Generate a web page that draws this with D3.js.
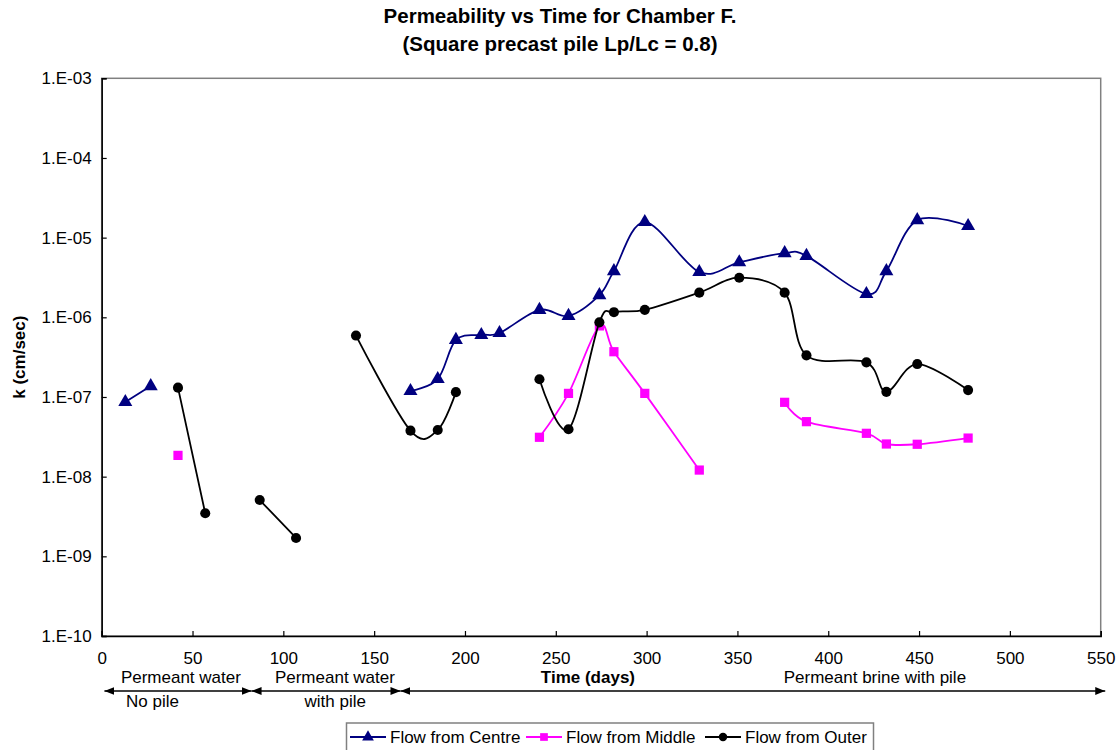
<!DOCTYPE html>
<head>
  <meta charset="utf-8">
  <script src="https://d3js.org/d3.v7.min.js"></script>
  <style>
    body { margin:0; background:#fff; }
    text { font-family: "Liberation Sans", Arial, sans-serif; }
  </style>
</head>

<body>
  <div id="chart"></div>
  <script>
    // data, null = break in the line
    var centreDays = [13, 27, null, 170, 185, 195, 209, 219, 241, 257, 274, 282, 299, 329, 351, 376, 388, 421, 432, 449, 477];
    var centreK = [8.65e-8, 1.37e-7, null, 1.19e-7, 1.68e-7, 5.2e-7, 6.0e-7, 6.35e-7, 1.24e-6, 1.04e-6, 1.9e-6, 3.8e-6, 1.57e-5, 3.7e-6, 4.9e-6, 6.4e-6, 5.9e-6, 1.96e-6, 3.8e-6, 1.66e-5, 1.4e-5];

    var middleDays = [42, null, 241, 257, 274, 282, 299, 329, null, 376, 388, 421, 432, 449, 477];
    var middleK = [1.85e-8, null, 3.12e-8, 1.11e-7, 7.8e-7, 3.7e-7, 1.11e-7, 1.21e-8, null, 8.57e-8, 4.9e-8, 3.5e-8, 2.57e-8, 2.55e-8, 3.05e-8];

    var outerDays = [42, 57, null, 87, 107, null, 140, 170, 185, 195, null, 241, 257, 274, 282, 299, 329, 351, 376, 388, 421, 432, 449, 477];
    var outerK = [1.31e-7, 3.47e-9, null, 5.09e-9, 1.7e-9, null, 5.9e-7, 3.78e-8, 3.85e-8, 1.15e-7, null, 1.67e-7, 3.93e-8, 8.65e-7, 1.16e-6, 1.24e-6, 2.04e-6, 3.14e-6, 2.04e-6, 3.33e-7, 2.72e-7, 1.16e-7, 2.59e-7, 1.22e-7];

    var seriesNames = ["Flow from Centre", "Flow from Middle", "Flow from Outer"];
    var xTicks = [0, 50, 100, 150, 200, 250, 300, 350, 400, 450, 500, 550];
    var yTicks = [1e-10, 1e-9, 1e-8, 1e-7, 1e-6, 1e-5, 1e-4, 1e-3];
    var yTickLabels = ["1.E-10", "1.E-09", "1.E-08", "1.E-07", "1.E-06", "1.E-05", "1.E-04", "1.E-03"];

    // stage annotations under the axis (days)
    var stageArrows = [[1.5, 82.5], [82.5, 164.5], [164.5, 552.5]];
    var stageText = [
      {t: "Permeant water", d: 43.6, row: 0},
      {t: "No pile", d: 28, row: 1},
      {t: "Permeant water", d: 128.4, row: 0},
      {t: "with pile", d: 128.6, row: 1},
      {t: "Permeant brine with pile", d: 425.7, row: 0}
    ];

    var W = 1119, H = 750;
    var pLeft = 101.7, pRight = 1100.7, pTop = 78.3, pBottom = 636;

    var svg = d3.select("#chart").append("svg")
      .attr("width", W)
      .attr("height", H)

    var x = d3.scaleLinear().domain([0, 550]).range([pLeft, pRight]);
    var y = d3.scaleLog().domain([1e-10, 1e-3]).range([pBottom, pTop]);

    // plot frame
    svg.append("rect")
      .attr("x", pLeft).attr("y", pTop)
      .attr("width", pRight - pLeft).attr("height", pBottom - pTop)
      .attr("fill", "none").attr("stroke", "#808080").attr("stroke-width", 1.5);

    var yAxis = d3.axisLeft(y).tickValues(yTicks).tickSize(-5).tickPadding(10)
      .tickFormat(function(d, i) { return yTickLabels[i]; });
    var gy = svg.append("g").attr("transform", "translate(" + pLeft + ",0)").call(yAxis);

    var xAxis = d3.axisBottom(x).tickValues(xTicks).tickSize(-5).tickPadding(16);
    var gx = svg.append("g").attr("transform", "translate(0," + pBottom + ")").call(xAxis);

    [gx, gy].forEach(function(g) {
      g.selectAll(".domain").attr("stroke", "#000").attr("stroke-width", 1.5);
      g.selectAll(".tick line").attr("stroke", "#000").attr("stroke-width", 1.2);
      g.selectAll("text").attr("font-size", 17).attr("fill", "#000")
        .style("font-family", "'Liberation Sans', Arial, sans-serif");
    });

    // title
    svg.append("text").attr("x", 560).attr("y", 23).attr("text-anchor", "middle")
      .attr("font-size", 20.5).attr("font-weight", "bold")
      .text("Permeability vs Time for Chamber F.");
    svg.append("text").attr("x", 560).attr("y", 51).attr("text-anchor", "middle")
      .attr("font-size", 20.5).attr("font-weight", "bold")
      .text("(Square precast pile Lp/Lc = 0.8)");

    // axis titles
    svg.append("text")
      .attr("transform", "translate(25," + ((pTop + pBottom) / 2) + ") rotate(-90)")
      .attr("text-anchor", "middle").attr("font-size", 17).attr("font-weight", "bold")
      .text("k (cm/sec)");
    svg.append("text").attr("x", x(267.7)).attr("y", 683).attr("text-anchor", "middle")
      .attr("font-size", 17).attr("font-weight", "bold")
      .text("Time (days)");

    // stage arrows
    var defs = svg.append("defs");
    defs.append("marker").attr("id", "ah").attr("viewBox", "0 0 10 8")
      .attr("refX", 10).attr("refY", 4).attr("markerWidth", 10).attr("markerHeight", 8)
      .attr("markerUnits", "userSpaceOnUse").attr("orient", "auto-start-reverse")
      .append("path").attr("d", "M0,0L10,4L0,8Z").attr("fill", "#000");

    svg.selectAll(".stage").data(stageArrows).enter()
      .append("line")
      .attr("x1", function(d) { return x(d[0]); })
      .attr("x2", function(d) { return x(d[1]); })
      .attr("y1", 691).attr("y2", 691)
      .attr("stroke", "#000").attr("stroke-width", 1.5)
      .attr("marker-start", "url(#ah)").attr("marker-end", "url(#ah)");

    svg.selectAll(".stagetext").data(stageText).enter()
      .append("text")
      .attr("x", function(d) { return x(d.d); })
      .attr("y", function(d) { return d.row ? 707 : 683; })
      .attr("text-anchor", "middle").attr("font-size", 17)
      .text(function(d) { return d.t; });

    // series
    var series = [
      {name: seriesNames[0], days: centreDays, k: centreK, color: "#000080", shape: d3.symbolTriangle, size: 85},
      {name: seriesNames[1], days: middleDays, k: middleK, color: "#FF00FF", shape: d3.symbolSquare, size: 85},
      {name: seriesNames[2], days: outerDays, k: outerK, color: "#000000", shape: d3.symbolCircle, size: 80}
    ];

    var line = d3.line()
      .defined(function(d) { return d.k != null; })
      .curve(d3.curveCardinal.tension(0))
      .x(function(d) { return x(d.day); })
      .y(function(d) { return y(d.k); })

    series.forEach(function(s) {
      var pts = s.days.map(function(d, i) { return {day: d, k: s.k[i]}; });
      svg.append("path").datum(pts)
        .attr("fill", "none").attr("stroke", s.color).attr("stroke-width", 1.8)
        .attr("d", line);
      svg.selectAll(null).data(pts.filter(function(p) { return p.k != null; })).enter()
        .append("path")
        .attr("transform", function(p) { return "translate(" + x(p.day) + "," + y(p.k) + ")"; })
        .attr("d", d3.symbol().type(s.shape).size(s.size))
        .attr("fill", s.color);
    });

    // legend
    var lg = svg.append("g");
    lg.append("rect").attr("x", 346.5).attr("y", 723).attr("width", 527).attr("height", 30)
      .attr("fill", "#fff").attr("stroke", "#808080").attr("stroke-width", 1.5);
    var legX = [350, 526, 705];
    series.forEach(function(s, i) {
      var g = lg.append("g").attr("transform", "translate(" + legX[i] + ",737)");
      g.append("line").attr("x1", 0).attr("x2", 36).attr("stroke", s.color).attr("stroke-width", 1.8);
      g.append("path").attr("transform", "translate(18,0)")
        .attr("d", d3.symbol().type(s.shape).size(s.size * 0.7)).attr("fill", s.color);
      g.append("text").attr("x", 40).attr("y", 6).attr("font-size", 17).text(s.name);
    });
  </script>
</body>
